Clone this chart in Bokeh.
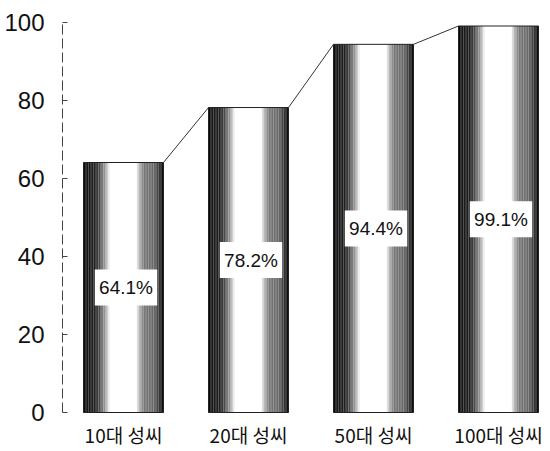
import numpy as np
from bokeh.plotting import figure
from bokeh.models import Range1d, FixedTicker, ColumnDataSource
from bokeh.core.properties import value
from bokeh.embed import file_html
from bokeh.resources import INLINE

# ---- data ----
categories = ["10대 성씨", "20대 성씨", "50대 성씨", "100대 성씨"]
values = [64.1, 78.2, 94.4, 99.1]
labels = ["64.1%", "78.2%", "94.4%", "99.1%"]
y_ticks = [0, 20, 40, 60, 80, 100]

# ---- style ----
BAR_W = 0.64
x_pos = list(range(len(categories)))

p = figure(frame_width=480, frame_height=429, output_backend="svg", toolbar_location=None,
           x_range=Range1d(-0.488, 3.352), y_range=Range1d(-39 / 3.9, 100),
           x_axis_location=None,
           min_border_left=62, min_border_right=4, min_border_top=22, min_border_bottom=0)
p.outline_line_color = None
p.background_fill_color = "white"
p.border_fill_color = "white"
p.xgrid.visible = False
p.ygrid.visible = False

# shading profile across a bar (fraction of width -> grey level)
prof_f = [0.0, 0.03, 0.15, 0.21, 0.28, 0.33, 0.66, 0.70, 0.76, 0.88, 0.94, 0.97, 1.0]
prof_g = [5, 20, 35, 85, 170, 255, 255, 180, 120, 105, 60, 30, 10]
N = 48
edges = np.linspace(0, 1, N + 1)
mids = (edges[:-1] + edges[1:]) / 2
greys = np.interp(mids, prof_f, prof_g).astype(int)

lefts, rights, tops, colors = [], [], [], []
for xi, v in zip(x_pos, values):
    x0 = xi - BAR_W / 2
    for k in range(N):
        lefts.append(x0 + edges[k] * BAR_W)
        rights.append(x0 + edges[k + 1] * BAR_W)
        tops.append(v)
        g = int(greys[k])
        colors.append("#%02x%02x%02x" % (g, g, g))
src = ColumnDataSource(dict(left=lefts, right=rights, top=tops, bottom=[0] * len(tops), color=colors))
p.quad(left="left", right="right", top="top", bottom="bottom", fill_color="color",
       line_color=None, source=src)

# bar outlines
p.quad(left=[x - BAR_W / 2 for x in x_pos], right=[x + BAR_W / 2 for x in x_pos],
       top=values, bottom=[0] * len(values), fill_color=None, line_color="#222222", line_width=1)

# connecting lines
for i in range(len(values) - 1):
    p.line([x_pos[i] + BAR_W / 2, x_pos[i + 1] - BAR_W / 2], [values[i], values[i + 1]],
           line_color="#333333", line_width=1)

# label boxes
box_x = [x + 0.02 for x in x_pos]
box_y = [v / 2 for v in values]
p.rect(x=box_x, y=box_y, width=BAR_W * 0.78, height=36, height_units="screen",
       fill_color="white", line_color=None)
p.text(x=box_x, y=box_y, text=labels, text_align="center", text_baseline="middle",
       text_font=value("Liberation Sans"), text_font_size="19px", text_color="#111111")

# category labels below the bars
p.text(x=x_pos, y=[0] * len(x_pos), text=categories, y_offset=22,
       text_align="center", text_baseline="middle",
       text_font=value("Noto Sans CJK KR"), text_font_size="19px", text_color="#111111")

# y axis
p.yaxis.ticker = FixedTicker(ticks=y_ticks)
p.yaxis.bounds = (0, 100)
p.yaxis.major_tick_in = 5
p.yaxis.major_tick_out = 0
p.yaxis.minor_tick_line_color = None
p.yaxis.axis_line_color = "#444444"
p.yaxis.axis_line_dash = "10 4"
p.yaxis.major_tick_line_color = "#444444"
p.yaxis.major_label_standoff = 18
p.yaxis.major_label_text_font = "Liberation Sans"
p.yaxis.major_label_text_font_size = "24px"
p.yaxis.major_label_text_color = "#111111"

open("out.html", "w").write(file_html(p, INLINE))
